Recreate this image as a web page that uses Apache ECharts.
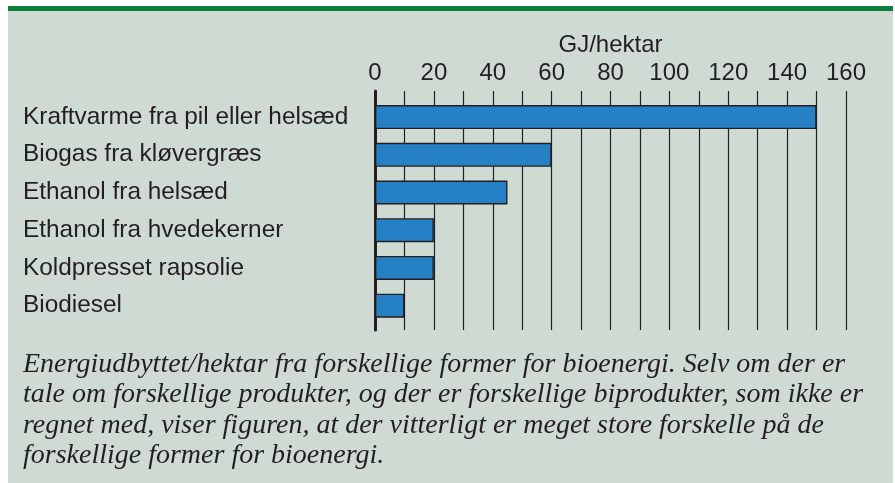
<!DOCTYPE html>
<html>
<head>
<meta charset="utf-8">
<script src="https://cdn.jsdelivr.net/npm/echarts@6/dist/echarts.min.js"></script>
<style>
  html, body { margin: 0; padding: 0; background: #ffffff; }
  #panel { position: absolute; left: 8px; top: 6px; width: 885px; height: 472px;
           border-top: 5px solid #0c7f3a; background: #cfdbd2; }
  #chart { position: absolute; left: 0; top: 0; width: 895px; height: 483px; }
</style>
</head>
<body>
<div id="panel"></div>
<div id="chart"></div>
<script>
const categories = [
  'Kraftvarme fra pil eller helsæd',
  'Biogas fra kløvergræs',
  'Ethanol fra helsæd',
  'Ethanol fra hvedekerner',
  'Koldpresset rapsolie',
  'Biodiesel'
];
const values = [150, 60, 45, 20, 20, 10];
const axisName = 'GJ/hektar';
const captionLines = [
  'Energiudbyttet/hektar fra forskellige former for bioenergi. Selv om der er',
  'tale om forskellige produkter, og der er forskellige biprodukter, som ikke er',
  'regnet med, viser figuren, at der vitterligt er meget store forskelle på de',
  'forskellige former for bioenergi.'
];

const ink = '#231f20';
const chart = echarts.init(document.getElementById('chart'));
chart.setOption({
  backgroundColor: 'transparent',
  animation: false,
  textStyle: { fontFamily: 'Liberation Sans', color: ink },
  grid: [
    { left: 375, width: 471, top: 91, height: 239 },
    { left: 375, width: 471, top: 98.2, height: 226.3 }
  ],
  xAxis: [
    {
      gridIndex: 0, type: 'value', min: 0, max: 160, interval: 10,
      axisLine: { show: false }, axisTick: { show: false }, axisLabel: { show: false },
      splitLine: { show: true, lineStyle: { color: ink, width: 1.2 } }
    },
    {
      gridIndex: 1, type: 'value', position: 'top', min: 0, max: 160, interval: 20,
      name: axisName, nameLocation: 'middle', nameGap: 41,
      nameTextStyle: { fontSize: 24, color: ink, fontFamily: 'Liberation Sans' },
      axisLine: { show: false }, axisTick: { show: false }, splitLine: { show: false },
      axisLabel: { fontSize: 24, color: ink, margin: 13, fontFamily: 'Liberation Sans' }
    }
  ],
  yAxis: [
    {
      gridIndex: 0, type: 'value', min: 0, max: 1,
      axisLine: { show: true, lineStyle: { color: ink, width: 3 } },
      axisTick: { show: false }, axisLabel: { show: false }, splitLine: { show: false }
    },
    {
      gridIndex: 1, type: 'category', data: categories, inverse: true,
      axisLine: { show: false }, axisTick: { show: false }, splitLine: { show: false },
      axisLabel: { align: 'left', margin: 352, fontSize: 24.4, color: ink, fontFamily: 'Liberation Sans' }
    }
  ],
  series: [{
    type: 'bar', xAxisIndex: 1, yAxisIndex: 1, data: values, barWidth: 24,
    itemStyle: { color: '#2580c5', borderColor: ink, borderWidth: 1.4 }
  }],
  graphic: [{
    type: 'text', left: 23, top: 349,
    style: {
      text: captionLines.join('\n'),
      font: 'italic 28px "Liberation Serif"',
      fill: ink, lineHeight: 30.5
    }
  }]
});
</script>
</body>
</html>
